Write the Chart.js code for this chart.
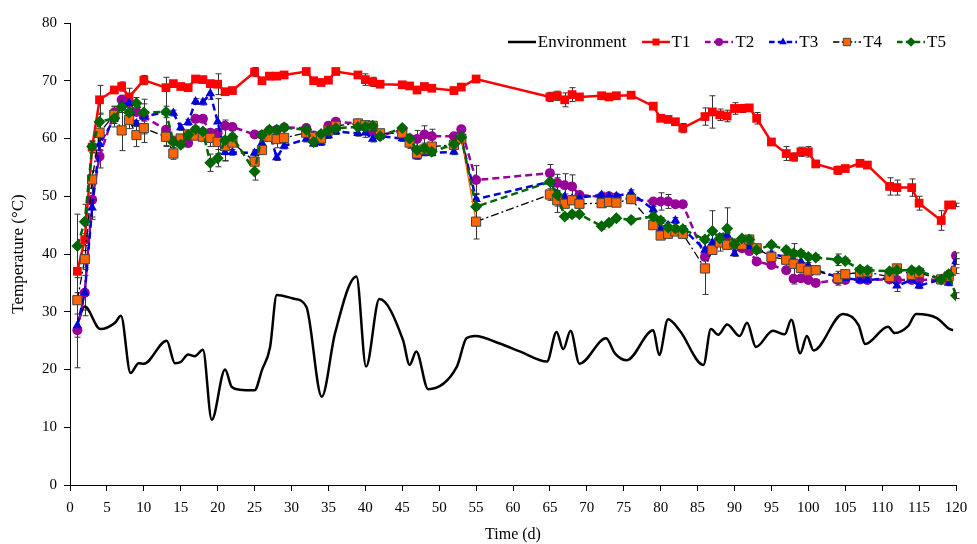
<!DOCTYPE html>
<html lang="en">
<head>
  <meta charset="UTF-8">
  <title>Temperature</title>
  <script src="https://cdn.jsdelivr.net/npm/chart.js@4.4.1/dist/chart.umd.min.js"></script>
  <style>
    html, body { margin: 0; padding: 0; background: #fff; }
    #myChart { display: block; }
  </style>
</head>
<body>
  <canvas id="myChart" width="977" height="544"></canvas>
</body>
<script>
  // sampling days (d) shared by T1-T5
  const days = [1,2,3,4,6,7,8,9,10,13, 14,15,16,17,18,19,20,21,22,25,
    26,27,28,29,32,33,34,35,36,39, 40,41,42,45,46,47,48,49,52,53,
    55,65,66,67,68,69,72,73,74,76, 79,80,81,82,83,86,87,88,89,90,
    91,92,93,95,97,98,99,100,101,104, 105,107,108,111,112,114,115,118,119,120];

  const t1 = [37,42.5,58.5,66.7,68.4,69.0,67.2,null,70.1,68.8, 69.5,69.0,68.8,70.3,70.2,69.5,69.4,68.1,68.3,71.5,
    70.0,70.8,70.8,71.0,71.6,70.0,69.7,70.1,71.6,71.0, 70.2,69.8,69.4,69.3,69.1,68.4,69.0,68.7,68.3,68.9,
    70.3,67.2,67.4,66.7,67.6,67.2,67.4,67.2,67.4,67.5, 65.6,63.5,63.3,62.9,61.8,63.8,64.6,64.1,63.9,65.2,
    65.2,65.3,63.5,59.4,57.4,56.8,57.7,57.7,55.6,54.5, 54.8,55.7,55.4,51.7,51.5,51.5,48.8,45.8,48.5,48.5];
  const t2 = [26.8,33.3,49.4,56.9,64.5,66.7,66.1,64.6,63.8,61.5, 59.5,59.5,59.2,63.4,63.4,61.0,61.0,62.2,62.0,60.7,
    60.6,61.4,61.5,61.9,61.8,60.5,60.5,62.2,62.9,62.6, 62.0,61.2,60.5,61.5,60.0,59.9,60.7,60.4,60.4,61.6,
    52.8,54.0,52.3,51.9,51.7,50.2,49.9,50.0,49.8,49.5, 49.1,49.1,49.1,48.6,48.6,39.5,41.0,42.5,42.0,41.5,
    41.0,40.5,38.7,38.1,37.2,35.7,35.8,35.5,35.0,35.5, 35.5,35.6,35.5,35.6,35.5,35.5,35.5,35.6,36.0,39.7];
  const t3 = [27.6,33.3,48.0,59.0,63.4,65.8,66.1,62.6,63.8,64.6, 64.4,61.9,62.8,66.4,66.3,67.8,62.9,57.6,57.6,57.5,
    59.2,61.0,56.7,58.7,59.9,59.1,59.3,60.5,61.2,60.9, 61.0,59.9,60.4,60.0,59.0,56.9,57.5,57.5,57.7,60.0,
    49.5,52.5,50.5,49.9,49.6,49.8,50.2,50.0,50.0,50.6, 47.7,44.4,45.0,45.8,44.4,40.7,42.0,42.9,43.3,40.1,
    42.0,41.3,40.7,40.0,39.5,39.0,38.7,38.0,37.2,36.0, 35.8,35.5,35.5,35.8,34.5,35.5,34.5,35.6,35.0,38.7];
  const t4 = [32.0,39.1,52.9,61.0,64.1,61.4,63.2,60.6,61.8,60.3, 57.4,60.0,60.7,60.5,60.3,60.1,59.4,58.7,59.3,56.0,
    58.0,60.3,59.9,60.1,61.0,60.3,60.0,61.4,62.2,62.6, 62.3,62.2,60.9,60.9,59.3,57.4,58.1,58.6,58.9,60.0,
    45.6,50.3,49.3,48.7,49.3,48.7,48.8,49.0,48.9,49.5, 45.0,43.2,43.5,43.9,43.5,37.5,40.7,42.0,41.6,41.8,
    41.6,42.5,41.0,39.5,39.0,38.3,37.6,37.1,37.2,35.8, 36.5,36.8,36.9,36.0,37.5,36.4,36.7,35.6,36.1,37.1];
  const t5 = [41.4,45.6,58.6,62.9,63.5,65.5,64.5,66.1,64.5,64.6, 59.4,58.9,60.6,61.6,61.2,55.8,56.6,59.7,60.3,54.3,
    60.6,61.5,61.5,61.9,61.5,59.4,60.8,61.4,61.8,62.0, 62.0,62.2,60.4,61.8,60.0,58.0,58.3,57.7,59.0,60.2,
    48.2,52.5,50.2,46.5,46.9,46.9,44.8,45.4,46.2,45.9, 46.5,45.8,44.6,44.4,44.3,42.5,44.0,42.7,44.4,41.7,
    42.7,42.5,40.7,41.6,40.7,40.1,40.1,39.5,39.4,39.0, 38.8,37.3,37.2,37.0,37.2,37.2,37.1,35.6,36.5,32.8];

  // standard deviations (error bars)
  const t1Err = [0,1,1,2.5,0.5,0.8,1.5,0,0.8,0.5, 0.4,0.3,0.3,0.4,0.3,0.4,1.8,0.4,0.4,0.8,
    0.5,0.3,0.3,0.3,0.3,0.3,0.3,0.3,0.5,0.3, 1,0.8,0.3,0.3,0.3,0.3,0.3,0.5,0.3,0.3,
    0.3,0.8,0.8,1.2,1.2,0.5,0.5,0.5,0.3,0.3, 0.3,0.3,0.3,0.3,0.8,1.5,2.8,1,1,1,
    0.7,0.5,1,0.3,1.2,0.7,0.8,0.9,0.3,0.7, 0.3,0.3,0.3,1.5,1.3,1.5,1.2,1.7,0.3,0.3];
  const t2Err = [6.5,3,3,2,1,0.8,1.2,0.5,3,0.5, 0.5,0.5,0.5,0.5,0.5,0.5,0.5,0.5,0.5,0.5,
    0.5,0.5,0.5,0.5,0.5,0.5,0.5,0.5,0.5,0.5, 0.5,0.5,0.5,0.5,0.5,1.5,1.5,1.2,0.5,0.5,
    2.5,1.5,1.5,2,2,0.5,0.5,0.5,0.5,0.5, 0.5,1.5,1.2,0.5,0.5,1.5,0.5,0.5,0.5,0.5,
    0.5,0.5,0.5,0.5,0.5,0.5,0.5,0.5,0.5,0.5, 0.5,0.5,0.5,0.5,0.5,0.5,0.5,0.5,0.5,0.5];
  const t3Err = [2,4,2,1,0.5,0.5,0.5,0.5,0.5,6, 0.5,0.5,0.5,0.5,0.5,1,4,1.5,0.5,0.5,
    1.5,0.5,0.5,0.5,0.5,0.5,0.5,0.5,0.5,0.5, 0.8,0.5,0.5,0.5,0.5,0.5,0.5,0.5,0.5,0.5,
    1,0.5,0.5,0.5,0.5,0.5,0.5,0.5,0.5,0.5, 0.5,0.5,0.5,0.5,0.5,0.5,2,0.5,0.5,0.5,
    0.5,0.5,0.5,0.5,0.5,0.5,1.5,0.5,0.5,0.5, 0.5,0.5,0.5,0.5,1,0.5,0.5,0.5,0.5,0.5];
  const t4Err = [5,1.5,1.5,2,1.5,3.5,1.5,2,2.5,1.5, 1,0.5,0.5,0.5,0.5,1.5,2,1.5,0.5,2,
    0.5,0.5,1.5,0.5,0.5,0.5,0.5,0.5,0.5,0.5, 0.5,0.5,0.5,0.5,1,0.5,0.5,0.5,0.5,0.5,
    3,1,1,0.5,0.5,0.5,0.5,0.5,0.5,0.5, 0.5,0.5,0.5,0.5,0.5,4.5,0.5,1.5,0.5,0.5,
    0.5,0.5,0.5,0.5,1.5,3.5,0.5,0.5,0.5,1.2, 0.5,0.5,0.5,0.5,0.5,0.5,0.5,0.5,1,0.5];
  const t5Err = [5.5,3,1,1.5,1.5,1,0.5,1,1.5,1, 1,0.5,0.5,0.5,0.5,1.5,1.5,3.5,0.5,1.5,
    0.5,0.5,0.5,0.5,0.5,0.5,0.5,0.5,0.5,0.5, 0.5,0.5,0.5,0.5,0.5,0.5,0.5,0.5,0.5,0.5,
    0.5,1.5,3,0.5,0.5,0.5,0.5,0.5,0.5,0.5, 0.5,0.5,0.5,0.5,0.5,0.5,3.5,0.5,3.6,0.5,
    0.5,0.5,0.5,0.5,0.5,0.5,0.5,0.5,0.5,1, 0.5,0.5,0.5,0.5,0.5,0.5,0.5,0.5,0.5,0.5];

  // ambient temperature curve
  const envDays = [1,2,4.1,6.1,6.9,8.2,9.3,10,13.1,14.2,15,16,16.9,18,19.2,21,21.9,23,25,26,
    27.1,28,30.2,32,34.1,35.9,38.8,40.1,41.9,45.1,46,46.9,48.5,52.4,53.7,54.9,58.2,61,64.6,65.9,
    66.8,67.8,69,72.6,73.8,75.4,79,79.8,81,82.6,85.8,86.8,87.8,89,90.7,91.7,92.9,95.2,96.8,97.7,
    98.9,99.8,100.7,104.7,106.8,107.7,110.8,111.7,113.5,114.6,117.4,119,119.6];
  const envTemp = [28,30.9,27.0,28.1,29.3,19.4,21.1,21.0,25.0,21.1,21.3,22.6,22.3,23.4,11.3,20.0,17.0,16.5,16.4,19.9,
    23.9,32.9,32.3,30.9,15.3,26.3,36.1,20.5,32.2,25.1,20.8,23.1,16.6,20.5,25.4,25.8,24.5,23.1,21.4,26.5,
    23.5,26.7,21.0,25.4,22.8,21.6,26.8,22.5,28.7,26.7,20.8,27.0,26.0,27.8,25.8,28.1,23.9,26.7,26.1,28.6,
    22.8,25.8,23.3,29.6,27.7,24.4,27.4,26.3,27.5,29.6,28.9,27.1,26.8];

  const xTicks = { min: 0, max: 120, step: 5 };
  const yTicks = { min: 0, max: 80, step: 10 };

  const serif = '"Liberation Serif", "Times New Roman", serif';
  const pts = (vals) => days.map((d, i) => ({ x: d, y: vals[i] }));

  const datasets = [
    { label: 'Environment', data: envDays.map((d, i) => ({ x: d, y: envTemp[i] })),
      borderColor: '#000', borderWidth: 2.5, pointRadius: 0, cubicInterpolationMode: 'monotone', order: 6 },
    { label: 'T1', data: pts(t1), errors: t1Err, borderColor: '#FF0000', backgroundColor: '#FF0000',
      borderWidth: 2.5, pointStyle: 'rect', pointRadius: 6.2, pointBorderWidth: 0, order: 5 },
    { label: 'T2', data: pts(t2), errors: t2Err, borderColor: '#990099', backgroundColor: '#990099',
      borderWidth: 2.5, borderDash: [7, 4], pointStyle: 'circle', pointRadius: 5, pointBorderWidth: 0, order: 4 },
    { label: 'T3', data: pts(t3), errors: t3Err, borderColor: '#0000DD', backgroundColor: '#0000DD',
      borderWidth: 2.5, borderDash: [7, 4], pointStyle: 'triangle', pointRadius: 5.5, pointBorderWidth: 0, order: 3 },
    { label: 'T4', data: pts(t4), errors: t4Err, borderColor: '#000', backgroundColor: '#FF6600',
      borderWidth: 1.3, borderDash: [8, 3, 2, 3], pointStyle: 'rect', pointRadius: 6.5,
      pointBorderColor: '#444', pointBorderWidth: 1, order: 2,
      segment: {
        borderColor: c => c.p1.parsed.x === 55 ? '#FF6600' : undefined,
        borderDash: c => c.p1.parsed.x === 55 ? [] : undefined
      } },
    { label: 'T5', data: pts(t5), errors: t5Err, borderColor: '#006600', backgroundColor: '#006600',
      borderWidth: 2.5, borderDash: [7, 4], pointStyle: 'rectRot', pointRadius: 6, pointBorderWidth: 0, order: 1 }
  ];

  // legend sample: short line piece with its marker
  function legendSample(ds, w) {
    const c = document.createElement('canvas');
    c.width = w; c.height = 16;
    const g = c.getContext('2d');
    g.strokeStyle = ds.borderColor;
    g.lineWidth = ds.borderWidth;
    g.setLineDash(ds.borderDash ? ds.borderDash.map(v => v * 0.8) : []);
    g.beginPath(); g.moveTo(0, 8); g.lineTo(w, 8); g.stroke();
    g.setLineDash([]);
    if (ds.pointRadius) {
      g.fillStyle = ds.backgroundColor;
      g.strokeStyle = ds.pointBorderColor || ds.backgroundColor;
      g.lineWidth = ds.pointBorderWidth || 0;
      Chart.helpers.drawPoint(g, { pointStyle: ds.pointStyle, radius: ds.pointRadius * 0.8,
        borderWidth: ds.pointBorderWidth || 0, rotation: 0 }, w / 2, 8);
    }
    return c;
  }

  // legend drawn inside the plot, top right, in one row
  const insideLegend = {
    id: 'insideLegend',
    afterDraw(chart) {
      const { ctx, chartArea } = chart;
      const sampleW = 28, gapText = 2, gapItem = 15;
      ctx.save();
      ctx.font = '17px ' + serif;
      ctx.textBaseline = 'middle';
      ctx.textAlign = 'left';
      ctx.fillStyle = '#000';
      const items = chart.data.datasets.map(ds => ({ ds, w: ctx.measureText(ds.label).width }));
      const total = items.reduce((s, it) => s + sampleW + gapText + it.w, 0) + gapItem * (items.length - 1);
      let x = chartArea.right - 10 - total;
      const y = chartArea.top + 19;
      items.forEach(it => {
        ctx.drawImage(legendSample(it.ds, sampleW), Math.round(x), Math.round(y) - 8);
        x += sampleW + gapText;
        ctx.fillText(it.ds.label, x, y + 1);
        x += it.w + gapItem;
      });
      ctx.restore();
    }
  };

  const errorBars = {
    id: 'errorBars',
    beforeDatasetsDraw(chart) {
      const { ctx, scales: { x, y } } = chart;
      ctx.save();
      ctx.strokeStyle = '#333';
      ctx.lineWidth = 1;
      chart.data.datasets.forEach(ds => {
        if (!ds.errors) return;
        ds.data.forEach((p, i) => {
          const e = ds.errors[i];
          if (p.y == null || !e) return;
          const px = Math.round(x.getPixelForValue(p.x)) + 0.5;
          const top = y.getPixelForValue(p.y + e);
          const bot = y.getPixelForValue(p.y - e);
          ctx.beginPath();
          ctx.moveTo(px, top); ctx.lineTo(px, bot);
          ctx.moveTo(px - 3, top); ctx.lineTo(px + 3, top);
          ctx.moveTo(px - 3, bot); ctx.lineTo(px + 3, bot);
          ctx.stroke();
        });
      });
      ctx.restore();
    }
  };

  const ctx = document.getElementById('myChart').getContext('2d');
  const myChart = new Chart(ctx, {
    type: 'line',
    data: { datasets },
    options: {
      responsive: false,
      animation: false,
      spanGaps: true,
      layout: { padding: { top: 23, right: 21, left: 0, bottom: 0 } },
      elements: { line: { tension: 0 } },
      plugins: {
        tooltip: { enabled: false },
        legend: { display: false }
      },
      scales: {
        x: {
          type: 'linear',
          min: xTicks.min, max: xTicks.max,
          afterFit: s => { s.height = 59; },
          ticks: { stepSize: xTicks.step, color: '#000', padding: 8, maxRotation: 0,
            font: { family: serif, size: 15 } },
          grid: { drawOnChartArea: false, drawTicks: true, tickLength: 6, color: '#000' },
          border: { color: '#000', width: 1 },
          title: { display: true, text: 'Time (d)', color: '#000', padding: { top: 0, bottom: 0 },
            font: { family: serif, size: 16 } }
        },
        y: {
          min: yTicks.min, max: yTicks.max,
          afterFit: s => { s.width = 70; },
          ticks: { stepSize: yTicks.step, color: '#000', padding: 7,
            font: { family: serif, size: 15 } },
          grid: { drawOnChartArea: false, drawTicks: true, tickLength: 6, color: '#000' },
          border: { color: '#000', width: 1 },
          title: { display: true, text: 'Temperature (°C)', color: '#000', padding: { top: 8, bottom: 0 },
            font: { family: serif, size: 17 } }
        }
      }
    },
    plugins: [errorBars, insideLegend]
  });
</script>
</html>
